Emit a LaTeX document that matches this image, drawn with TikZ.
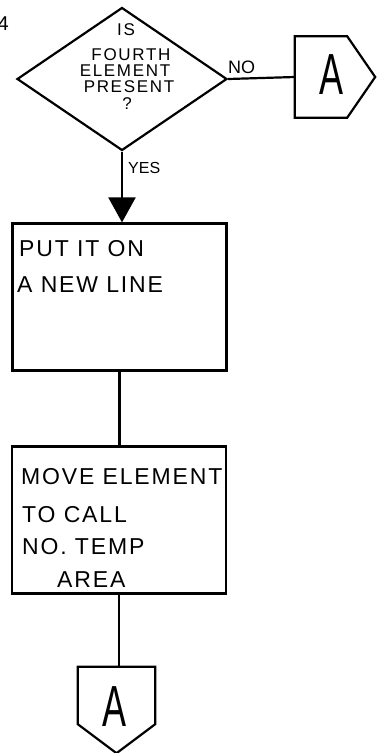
\documentclass[tikz,border=0pt]{standalone}
\usepackage{fontspec}
\setmainfont{Liberation Sans}
\newfontfamily\dfont[LetterSpace=10]{Liberation Sans}
\newfontfamily\bfont[LetterSpace=8]{Liberation Sans}
\usepackage{graphicx}
\usetikzlibrary{shapes.geometric,arrows.meta,calc}

\newcommand{\bigA}{\scalebox{0.62}[1]{\fontsize{58}{58}\selectfont A}}

\begin{document}
\begin{tikzpicture}[x=1pt,y=-1pt,
  ink/.style={line width=2.2pt, line join=miter},
  decision/.style={ink, draw, shape=diamond, inner sep=0pt,
    minimum width=210pt, minimum height=143pt},
  process/.style={ink, draw, rectangle, inner sep=0pt,
    minimum width=214pt, minimum height=147pt},
  frame/.style={rectangle, inner sep=0pt},
  dtxt/.style={anchor=base, inner sep=0pt, font=\dfont\fontsize{17}{17}\selectfont},
  btxt/.style={anchor=base west, inner sep=0pt, font=\bfont\fontsize{23}{23}\selectfont},
  lbl/.style={anchor=base west, inner sep=0pt, font=\fontsize{16}{16}\selectfont},
  line/.style={ink}
]
\useasboundingbox (0,0) rectangle (376,753);

% page number fragment at the margin
\node[anchor=base east, inner sep=0pt, font=\fontsize{20}{20}\selectfont] (pg) at (9,30) {4};

% decision
\node[decision] (dec) at (122,79) {};
\node[dtxt] (d1) at (126,35) {IS};
\node[dtxt] (d2) at (131,60) {FOURTH};
\node[dtxt] (d3) at (125,76) {ELEMENT};
\node[dtxt] (d4) at (129,92) {PRESENT};
\node[dtxt] (d5) at (127,109) {?};

% off-page connector to the right (pointing east)
\node[frame, minimum width=80pt, minimum height=81pt] (conR) at (335,77) {};
\draw[ink] (conR.north west) -- ($(conR.north east)+(-28,0)$) -- (conR.east)
  -- ($(conR.south east)+(-28,0)$) -- (conR.south west) -- cycle;
\node[inner sep=0pt] (aR) at (331,75) {\bigA};
\draw[line] (dec.east) -- (conR.west);
\node[lbl, font=\fontsize{18}{18}\selectfont] (no) at (228,73) {NO};

% processing steps
\node[process] (box1) at (119.5,297) {};
\node[btxt] (b1a) at (19,256) {PUT IT ON};
\node[btxt] (b1b) at (17,292) {A NEW LINE};

\node[process] (box2) at (119,520) {};
\node[btxt] (b2a) at (21,484) {MOVE ELEMENT};
\node[btxt] (b2b) at (22,522) {TO CALL};
\node[btxt] (b2c) at (22,554) {NO. TEMP};
\node[btxt] (b2d) at (57,587) {AREA};

% off-page connector at the bottom (pointing south)
\node[frame, minimum width=77pt, minimum height=86pt] (conB) at (116.5,710) {};
\draw[ink] (conB.north west) -- (conB.north east) -- ($(conB.south east)+(0,-29)$)
  -- (conB.south) -- ($(conB.south west)+(0,-29)$) -- cycle;
\node[inner sep=0pt] (aB) at (114,707) {\bigA};

% flow lines
\draw[line, -{Triangle[width=27pt,length=25pt]}] (dec.south) -- (dec.south |- box1.north);
\node[lbl] (yes) at (128,173) {YES};
\draw[line] (box1.south) -- (box1.south |- box2.north);
\draw[line] (box2.south) -- (box2.south |- conB.north);
\end{tikzpicture}
\end{document}
